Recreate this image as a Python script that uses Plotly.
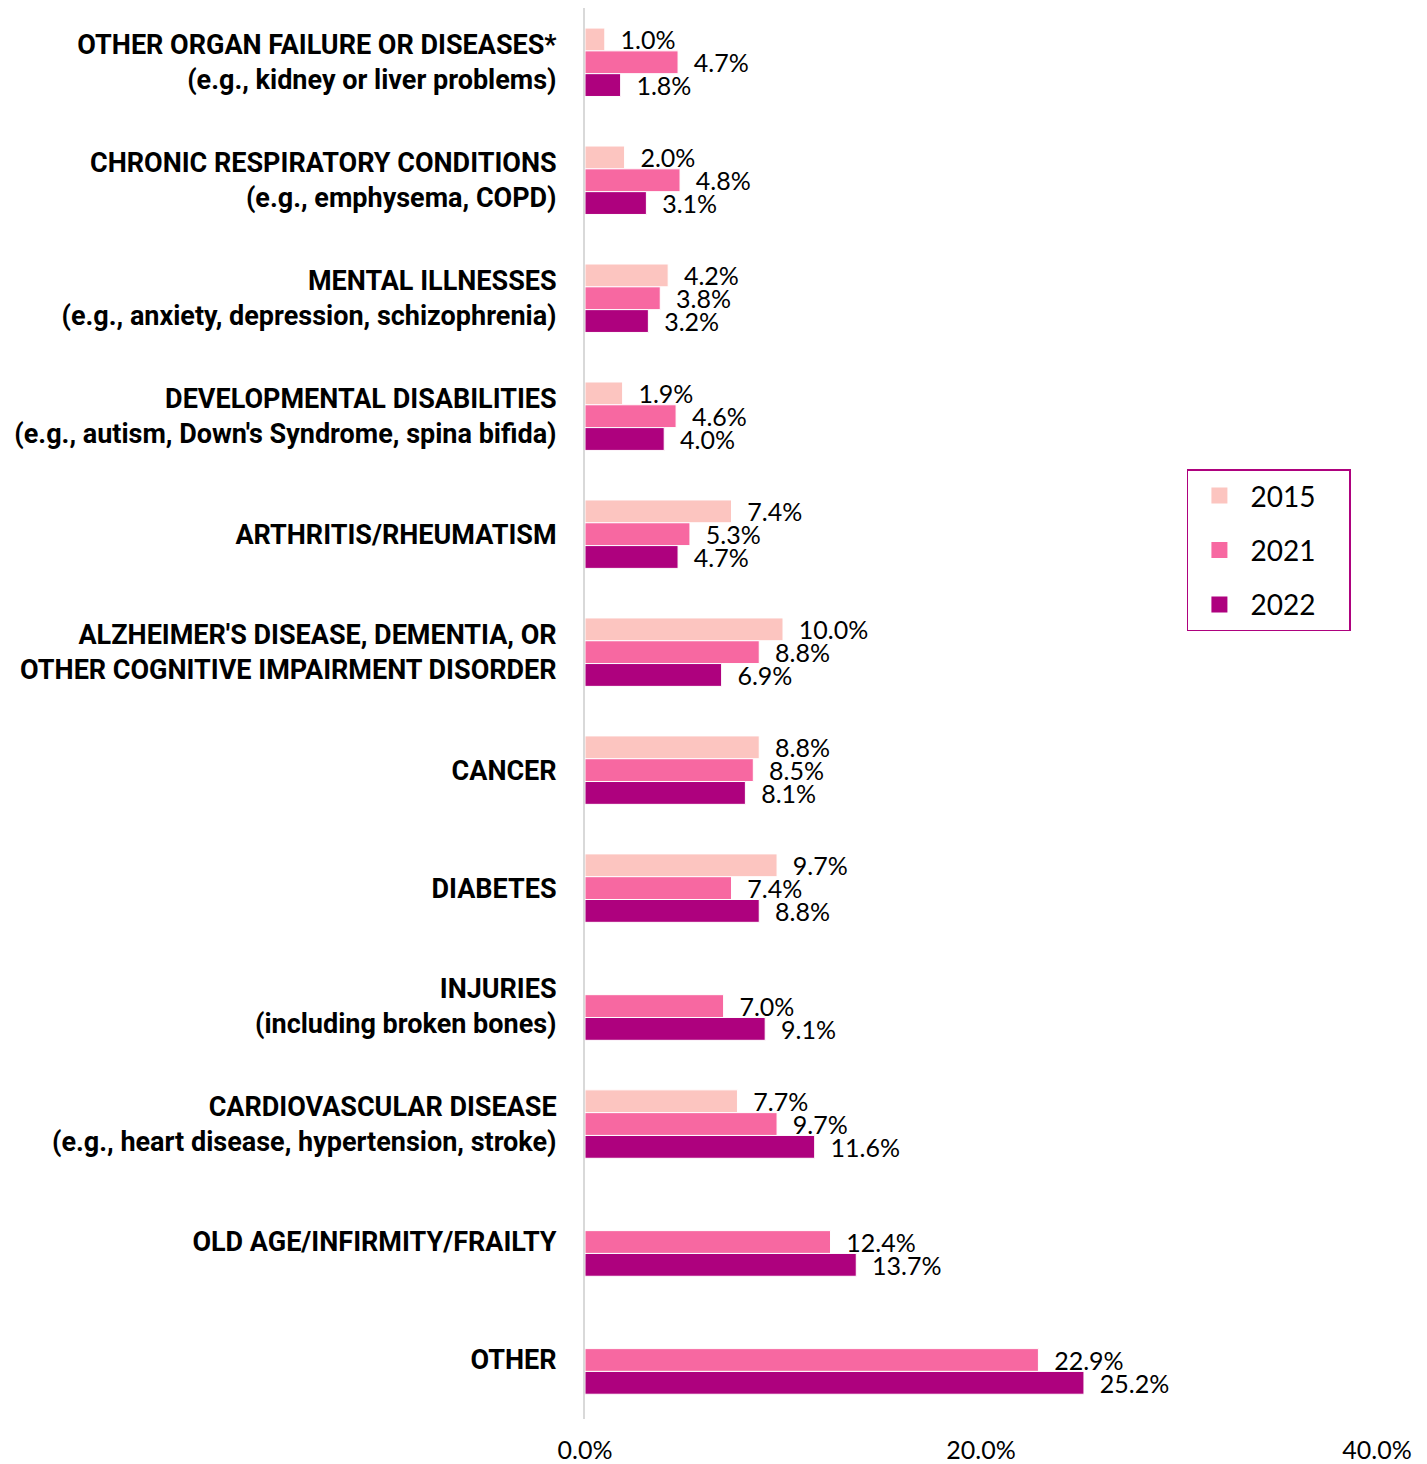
import plotly.graph_objects as go

categories = [
    "OTHER ORGAN FAILURE OR DISEASES*<br>(e.g., kidney or liver problems)",
    "CHRONIC RESPIRATORY CONDITIONS<br>(e.g., emphysema, COPD)",
    "MENTAL ILLNESSES<br>(e.g., anxiety, depression, schizophrenia)",
    "DEVELOPMENTAL DISABILITIES<br>(e.g., autism, Down's Syndrome, spina bifida)",
    "ARTHRITIS/RHEUMATISM",
    "ALZHEIMER'S DISEASE, DEMENTIA, OR<br>OTHER COGNITIVE IMPAIRMENT DISORDER",
    "CANCER",
    "DIABETES",
    "INJURIES<br>(including broken bones)",
    "CARDIOVASCULAR DISEASE<br>(e.g., heart disease, hypertension, stroke)",
    "OLD AGE/INFIRMITY/FRAILTY",
    "OTHER",
]
v2015 = [1.0, 2.0, 4.2, 1.9, 7.4, 10.0, 8.8, 9.7, None, 7.7, None, None]
v2021 = [4.7, 4.8, 3.8, 4.6, 5.3, 8.8, 8.5, 7.4, 7.0, 9.7, 12.4, 22.9]
v2022 = [1.8, 3.1, 3.2, 4.0, 4.7, 6.9, 8.1, 8.8, 9.1, 11.6, 13.7, 25.2]
series = [("2015", v2015, "#fcc5c0"), ("2021", v2021, "#f768a1"), ("2022", v2022, "#ae017e")]
tick_vals = [0, 20, 40]
tick_text = ["0.0%", "20.0%", "40.0%"]

FONT = "Lato"
CAT_FONT = "Roboto"
fig = go.Figure()
for name, vals, color in series:
    fig.add_trace(go.Bar(
        y=categories, x=vals, name=name, orientation="h",
        marker=dict(color=color, line=dict(color="white", width=1)),
        text=[("  %.1f%%" % v) if v is not None else "" for v in vals],
        textposition="outside", constraintext="none", cliponaxis=False,
        textfont=dict(family=FONT, size=25, color="black"),
        legendgroup=name, showlegend=False,
    ))
# legend entries (square swatches)
pad = "\u00a0" * 4
for name, vals, color in series:
    fig.add_trace(go.Scatter(
        x=[None], y=[None], mode="markers", name=name + pad, legendgroup=name,
        marker=dict(symbol="square", size=18, color=color),
        showlegend=True,
    ))

fig.update_layout(
    width=1419, height=1456,
    margin=dict(l=577, r=50, t=0, b=45),
    barmode="group", bargap=0.42, bargroupgap=0,
    paper_bgcolor="white", plot_bgcolor="white",
    font=dict(family=FONT, color="black"),
    showlegend=True,
    legend=dict(x=0.76, y=0.673, xanchor="left", yanchor="top",
                bordercolor="#ae017e", borderwidth=1.5,
                font=dict(family=FONT, size=28), tracegroupgap=15,
                itemwidth=52, itemsizing="trace",
                bgcolor="white"),
    xaxis=dict(range=[0, 40], tickvals=tick_vals, ticktext=tick_text,
               showgrid=False, zeroline=False, showline=False, automargin=False,
               tickfont=dict(family=FONT, size=25), ticklabelstandoff=14),
    yaxis=dict(range=[11.5, -0.46], showgrid=False, showline=True,
               linecolor="#d9d9d9", linewidth=2, ticks="", automargin=False,
               tickfont=dict(family=CAT_FONT, size=27, weight="bold"),
               ticklabelstandoff=21),
)
fig.write_html("out.html")
